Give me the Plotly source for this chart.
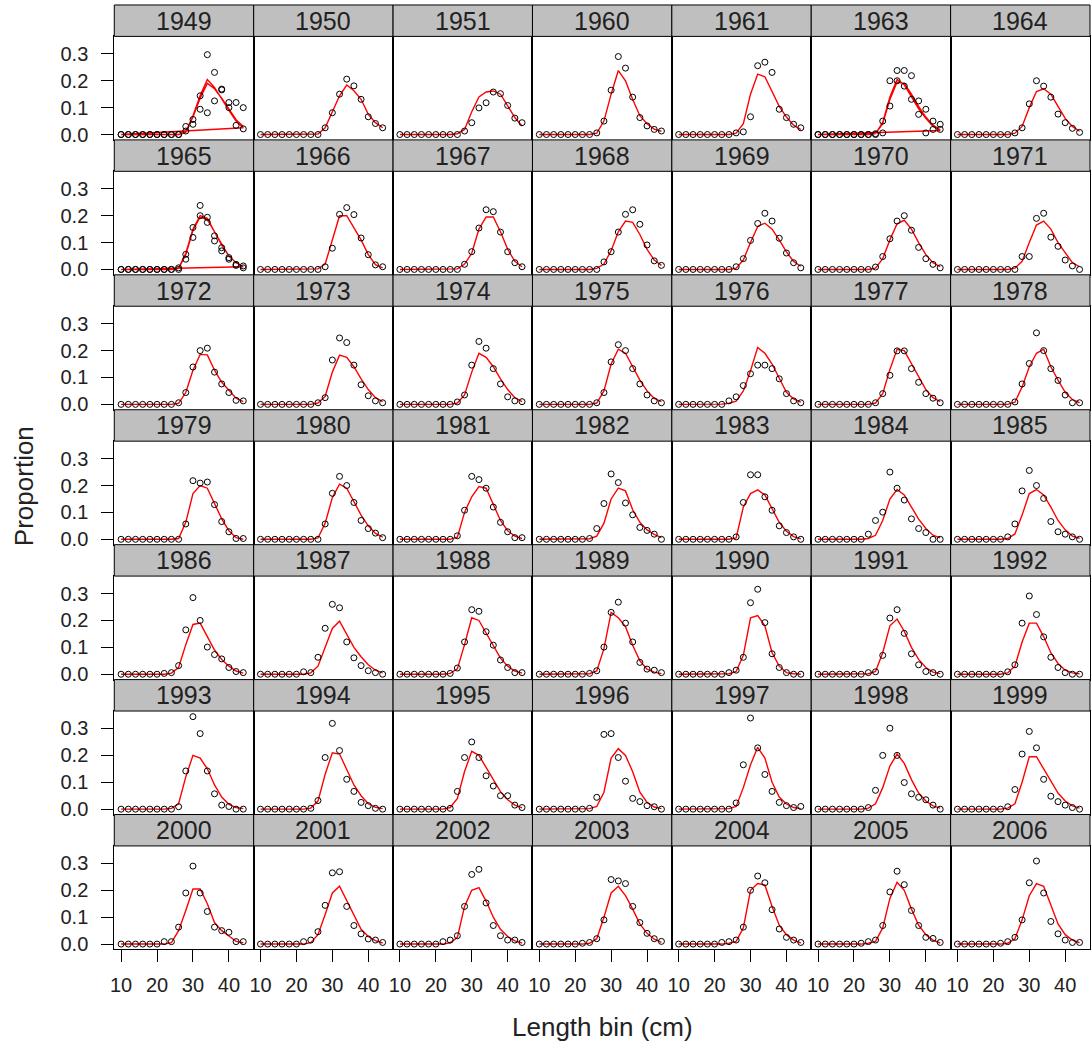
import plotly.graph_objects as go

# ---------------- data ----------------
bins = [10, 12, 14, 16, 18, 20, 22, 24, 26, 28, 30, 32, 34, 36, 38, 40, 42, 44]
x_ticks = [10, 20, 30, 40]
y_ticks = [0.0, 0.1, 0.2, 0.3]
y_tick_text = ["0.0", "0.1", "0.2", "0.3"]

years = [1949, 1950, 1951, 1960, 1961, 1963, 1964,
         1965, 1966, 1967, 1968, 1969, 1970, 1971,
         1972, 1973, 1974, 1975, 1976, 1977, 1978,
         1979, 1980, 1981, 1982, 1983, 1984, 1985,
         1986, 1987, 1988, 1989, 1990, 1991, 1992,
         1993, 1994, 1995, 1996, 1997, 1998, 1999,
         2000, 2001, 2002, 2003, 2004, 2005, 2006]

obs_1949a = [0, 0, 0, 0, 0, 0, 0, 0, 0, .013, .056, .144, .297, .231, .169, .119, .119, .100]
obs_1949b = [0, 0, 0, 0, 0, 0, 0, 0, 0, .030, .038, .094, .081, .125, .166, .100, .034, .021]
exp_1949a = [0, 0, 0, 0, 0, 0, 0, 0, 0, .010, .070, .145, .205, .175, .130, .090, .050, .025]
exp_1949b = [0, 0, 0, 0, 0, 0, 0, 0, 0, .008, .065, .135, .190, .170, .135, .095, .055, .030]

obs_1950 = [0, 0, 0, 0, 0, 0, 0, 0, 0, .025, .081, .150, .206, .181, .131, .066, .041, .025]
exp_1950 = [0, 0, 0, 0, 0, 0, 0, 0, .002, .025, .088, .144, .184, .163, .131, .075, .044, .025]
obs_1951 = [0, 0, 0, 0, 0, 0, 0, 0, 0, .013, .044, .099, .118, .158, .152, .108, .061, .044]
exp_1951 = [0, 0, 0, 0, 0, 0, 0, 0, .003, .019, .085, .140, .158, .162, .150, .108, .063, .032]
obs_1960 = [0, 0, 0, 0, 0, 0, 0, 0, .006, .050, .165, .290, .247, .139, .063, .032, .019, .013]
exp_1960 = [0, 0, 0, 0, 0, 0, 0, 0, .005, .050, .150, .238, .200, .130, .070, .040, .020, .012]
obs_1961 = [0, 0, 0, 0, 0, 0, 0, 0, .006, .010, .066, .256, .269, .231, .094, .063, .038, .025]
exp_1961 = [0, 0, 0, 0, 0, 0, 0, 0, .005, .040, .150, .225, .215, .160, .105, .065, .035, .018]

obs_1963a = [0, 0, 0, 0, 0, 0, 0, 0, 0, .050, .200, .238, .238, .219, .125, .094, .050, .038]
obs_1963b = [0, 0, 0, 0, 0, 0, 0, 0, .003, .006, .106, .200, .180, .131, .075, .006, .019, .019]
exp_1963a = [0, 0, 0, 0, 0, 0, 0, 0, .003, .045, .140, .205, .185, .140, .095, .060, .030, .015]
exp_1963b = [0, 0, 0, 0, 0, 0, 0, 0, .003, .040, .130, .195, .190, .150, .105, .065, .035, .017]

obs_1964 = [0, 0, 0, 0, 0, 0, 0, 0, .006, .025, .114, .200, .180, .139, .076, .044, .023, .008]
exp_1964 = [0, 0, 0, 0, 0, 0, 0, 0, .005, .030, .100, .160, .170, .150, .105, .060, .030, .012]

obs_1965a = [0, 0, 0, 0, 0, 0, 0, 0, .006, .056, .156, .238, .194, .125, .081, .044, .019, .013]
obs_1965b = [0, 0, 0, 0, 0, 0, 0, 0, 0, .038, .119, .200, .175, .106, .069, .038, .015, .006]
exp_1965a = [0, 0, 0, 0, 0, 0, 0, 0, .005, .060, .150, .200, .190, .140, .090, .050, .025, .010]
exp_1965b = [0, 0, 0, 0, 0, 0, 0, 0, .004, .055, .145, .195, .185, .140, .090, .050, .025, .010]

obs_1966 = [0, 0, 0, 0, 0, 0, 0, 0, 0, .010, .079, .205, .230, .204, .117, .055, .017, .010]
exp_1966 = [0, 0, 0, 0, 0, 0, 0, 0, .002, .020, .110, .200, .200, .155, .110, .055, .018, .006]
obs_1967 = [0, 0, 0, 0, 0, 0, 0, 0, 0, .019, .066, .154, .222, .215, .139, .066, .025, .010]
exp_1967 = [0, 0, 0, 0, 0, 0, 0, 0, .002, .020, .060, .150, .195, .195, .140, .075, .030, .010]
obs_1968 = [0, 0, 0, 0, 0, 0, 0, 0, 0, .028, .066, .139, .205, .222, .168, .091, .032, .015]
exp_1968 = [0, 0, 0, 0, 0, 0, 0, 0, .004, .020, .070, .140, .180, .175, .130, .075, .035, .015]
obs_1969 = [0, 0, 0, 0, 0, 0, 0, 0, .010, .040, .108, .171, .209, .180, .116, .061, .025, .006]
exp_1969 = [0, 0, 0, 0, 0, 0, 0, 0, .005, .035, .100, .160, .172, .150, .110, .065, .030, .012]
obs_1970 = [0, 0, 0, 0, 0, 0, 0, 0, .009, .048, .114, .180, .200, .146, .082, .040, .019, .006]
exp_1970 = [0, 0, 0, 0, 0, 0, 0, 0, .005, .040, .110, .170, .183, .150, .100, .055, .025, .010]
obs_1971 = [0, 0, 0, 0, 0, 0, 0, 0, 0, .048, .048, .190, .209, .120, .086, .035, .013, 0]
exp_1971 = [0, 0, 0, 0, 0, 0, 0, 0, .005, .030, .100, .165, .180, .150, .100, .060, .025, .010]

obs_1972 = [0, 0, 0, 0, 0, 0, 0, 0, .006, .044, .139, .200, .209, .120, .076, .044, .015, .013]
exp_1972 = [0, 0, 0, 0, 0, 0, 0, 0, .004, .044, .127, .186, .184, .127, .082, .051, .023, .010]
obs_1973 = [0, 0, 0, 0, 0, 0, 0, 0, .006, .025, .165, .247, .230, .146, .073, .032, .013, .006]
exp_1973 = [0, 0, 0, 0, 0, 0, 0, 0, .005, .030, .120, .183, .175, .140, .095, .055, .025, .010]
obs_1974 = [0, 0, 0, 0, 0, 0, 0, 0, .009, .035, .146, .234, .209, .133, .076, .028, .013, .010]
exp_1974 = [0, 0, 0, 0, 0, 0, 0, 0, .005, .035, .120, .190, .175, .140, .095, .055, .025, .010]
obs_1975 = [0, 0, 0, 0, 0, 0, 0, 0, .006, .044, .158, .222, .200, .133, .076, .035, .013, .006]
exp_1975 = [0, 0, 0, 0, 0, 0, 0, 0, .005, .050, .150, .205, .190, .140, .090, .050, .022, .010]
obs_1976 = [0, 0, 0, 0, 0, 0, 0, .013, .028, .070, .114, .146, .146, .133, .095, .040, .013, .006]
exp_1976 = [0, 0, 0, 0, 0, 0, .001, .004, .012, .050, .125, .212, .190, .150, .095, .045, .020, .008]
obs_1977 = [0, 0, 0, 0, 0, 0, 0, 0, .006, .040, .108, .199, .199, .133, .082, .040, .023, .006]
exp_1977 = [0, 0, 0, 0, 0, 0, 0, 0, .005, .040, .130, .205, .200, .150, .100, .055, .025, .010]
obs_1978 = [0, 0, 0, 0, 0, 0, 0, 0, .009, .076, .152, .266, .200, .133, .089, .035, .006, .006]
exp_1978 = [0, 0, 0, 0, 0, 0, 0, 0, .008, .065, .140, .190, .205, .140, .090, .045, .018, .006]

obs_1979 = [0, 0, 0, 0, 0, 0, 0, 0, 0, .057, .218, .209, .213, .129, .066, .028, .003, .003]
exp_1979 = [0, 0, 0, 0, 0, 0, 0, 0, .003, .063, .170, .200, .190, .133, .076, .032, .006, 0]
obs_1980 = [0, 0, 0, 0, 0, 0, 0, 0, 0, .057, .171, .234, .200, .137, .070, .040, .023, .006]
exp_1980 = [0, 0, 0, 0, 0, 0, 0, 0, .005, .060, .155, .205, .190, .140, .090, .050, .022, .008]
obs_1981 = [0, 0, 0, 0, 0, 0, 0, 0, .013, .108, .234, .222, .190, .120, .063, .028, .006, .006]
exp_1981 = [0, 0, 0, 0, 0, 0, 0, 0, .008, .100, .158, .196, .190, .127, .070, .032, .012, .003]
obs_1982 = [0, 0, 0, 0, 0, 0, 0, .003, .040, .133, .243, .211, .135, .091, .044, .033, .019, 0]
exp_1982 = [0, 0, 0, 0, 0, 0, 0, .002, .012, .060, .150, .190, .180, .110, .063, .035, .018, .006]
obs_1983 = [0, 0, 0, 0, 0, 0, 0, 0, .009, .137, .240, .240, .158, .108, .050, .025, .009, 0]
exp_1983 = [0, 0, 0, 0, 0, 0, 0, 0, .005, .120, .170, .184, .165, .115, .063, .030, .010, .002]
obs_1984 = [0, 0, 0, 0, 0, 0, 0, .019, .070, .101, .250, .190, .146, .076, .040, .025, 0, 0]
exp_1984 = [0, 0, 0, 0, 0, 0, 0, .003, .015, .070, .150, .185, .165, .120, .075, .040, .015, .005]
obs_1985 = [0, 0, 0, 0, 0, 0, 0, .009, .057, .180, .256, .200, .152, .066, .028, .019, .009, 0]
exp_1985 = [0, 0, 0, 0, 0, 0, 0, .003, .020, .090, .170, .185, .165, .120, .070, .035, .012, .004]

obs_1986 = [0, 0, 0, 0, 0, 0, .003, .006, .032, .165, .285, .200, .101, .073, .057, .025, .010, .006]
exp_1986 = [0, 0, 0, 0, 0, 0, 0, .004, .025, .110, .185, .190, .140, .090, .055, .030, .012, .004]
obs_1987 = [0, 0, 0, 0, 0, 0, .009, .006, .063, .171, .260, .247, .120, .061, .032, .013, .006, 0]
exp_1987 = [0, 0, 0, 0, 0, 0, 0, .005, .030, .100, .170, .197, .150, .100, .065, .035, .015, .005]
obs_1988 = [0, 0, 0, 0, 0, 0, 0, .003, .023, .120, .240, .234, .158, .108, .053, .025, .006, .006]
exp_1988 = [0, 0, 0, 0, 0, 0, 0, .003, .020, .110, .210, .200, .155, .105, .060, .030, .012, .004]
obs_1989 = [0, 0, 0, 0, 0, 0, 0, .003, .013, .101, .230, .268, .190, .120, .044, .019, .015, .006]
exp_1989 = [0, 0, 0, 0, 0, 0, 0, .002, .012, .095, .230, .210, .177, .108, .050, .019, .008, .002]
obs_1990 = [0, 0, 0, 0, 0, 0, 0, .006, .015, .063, .266, .316, .192, .076, .025, .006, 0, 0]
exp_1990 = [0, 0, 0, 0, 0, 0, 0, .002, .010, .070, .210, .218, .180, .080, .030, .006, .002, 0]
obs_1991 = [0, 0, 0, 0, 0, 0, 0, .006, .009, .070, .209, .240, .152, .076, .035, .010, .006, 0]
exp_1991 = [0, 0, 0, 0, 0, 0, 0, .002, .010, .080, .180, .205, .160, .100, .055, .025, .008, .002]
obs_1992 = [0, 0, 0, 0, 0, 0, 0, .009, .035, .190, .291, .222, .139, .063, .025, .006, 0, 0]
exp_1992 = [0, 0, 0, 0, 0, 0, 0, .005, .030, .120, .190, .190, .140, .080, .040, .015, .005, .002]

obs_1993 = [0, 0, 0, 0, 0, 0, 0, 0, .009, .142, .344, .281, .142, .057, .015, .010, 0, 0]
exp_1993 = [0, 0, 0, 0, 0, 0, 0, .003, .020, .120, .200, .190, .150, .090, .045, .018, .006, .002]
obs_1994 = [0, 0, 0, 0, 0, 0, 0, .003, .032, .192, .319, .218, .111, .066, .025, .013, .003, 0]
exp_1994 = [0, 0, 0, 0, 0, 0, 0, .004, .030, .130, .210, .205, .150, .090, .050, .020, .007, .002]
obs_1995 = [0, 0, 0, 0, 0, 0, 0, .003, .066, .192, .250, .192, .124, .086, .050, .050, .015, .006]
exp_1995 = [0, 0, 0, 0, 0, 0, 0, .006, .040, .140, .215, .200, .155, .105, .065, .035, .015, .005]
obs_1996 = [0, 0, 0, 0, 0, 0, 0, .003, .044, .278, .281, .192, .104, .040, .028, .013, .009, 0]
exp_1996 = [0, 0, 0, 0, 0, 0, 0, .002, .010, .063, .190, .225, .200, .139, .063, .025, .008, .002]
obs_1997 = [0, 0, 0, 0, 0, 0, 0, 0, .023, .165, .339, .228, .129, .066, .025, .013, .006, .010]
exp_1997 = [0, 0, 0, 0, 0, 0, 0, .002, .010, .080, .165, .230, .190, .100, .045, .019, .006, .002]
obs_1998 = [0, 0, 0, 0, 0, 0, 0, .006, .070, .200, .301, .200, .099, .057, .044, .035, .015, 0]
exp_1998 = [0, 0, 0, 0, 0, 0, 0, .004, .020, .080, .160, .205, .170, .110, .060, .030, .012, .004]
obs_1999 = [0, 0, 0, 0, 0, 0, 0, .009, .073, .205, .289, .228, .111, .048, .028, .015, .006, 0]
exp_1999 = [0, 0, 0, 0, 0, 0, 0, .004, .020, .100, .195, .195, .150, .100, .060, .030, .012, .004]

obs_2000 = [0, 0, 0, 0, 0, 0, .009, .009, .063, .190, .290, .190, .121, .063, .050, .044, .009, .009]
exp_2000 = [0, 0, 0, 0, 0, 0, 0, .005, .050, .125, .205, .205, .150, .080, .050, .030, .010, .005]
obs_2001 = [0, 0, 0, 0, 0, 0, .009, .015, .046, .144, .265, .269, .140, .069, .038, .019, .015, .006]
exp_2001 = [0, 0, 0, 0, 0, 0, 0, .005, .035, .110, .190, .215, .160, .105, .055, .028, .013, .004]
obs_2002 = [0, 0, 0, 0, 0, 0, .009, .015, .031, .140, .259, .278, .153, .069, .031, .015, .015, .006]
exp_2002 = [0, 0, 0, 0, 0, 0, 0, .005, .025, .140, .200, .210, .160, .100, .055, .028, .012, .004]
obs_2003 = [0, 0, 0, 0, 0, 0, .003, .006, .020, .090, .240, .235, .225, .140, .080, .040, .020, .010]
exp_2003 = [0, 0, 0, 0, 0, 0, 0, .003, .020, .100, .190, .215, .180, .130, .075, .040, .018, .006]
obs_2004 = [0, 0, 0, 0, 0, 0, .006, .009, .015, .063, .200, .253, .228, .128, .056, .025, .015, .006]
exp_2004 = [0, 0, 0, 0, 0, 0, 0, .003, .010, .060, .200, .225, .220, .140, .070, .035, .015, .004]
obs_2005 = [0, 0, 0, 0, 0, 0, .003, .009, .015, .069, .194, .271, .221, .125, .069, .025, .021, .006]
exp_2005 = [0, 0, 0, 0, 0, 0, 0, .003, .010, .060, .170, .230, .200, .130, .070, .035, .015, .004]
obs_2006 = [0, 0, 0, 0, 0, 0, .003, .009, .025, .090, .228, .309, .190, .084, .038, .015, .006, .006]
exp_2006 = [0, 0, 0, 0, 0, 0, 0, .003, .020, .090, .180, .225, .215, .145, .075, .035, .015, .005]

# per-panel series (years with two fleets carry two observed / two expected series)
observed = {
    1949: [obs_1949a, obs_1949b], 1950: [obs_1950], 1951: [obs_1951], 1960: [obs_1960],
    1961: [obs_1961], 1963: [obs_1963a, obs_1963b], 1964: [obs_1964],
    1965: [obs_1965a, obs_1965b], 1966: [obs_1966], 1967: [obs_1967], 1968: [obs_1968],
    1969: [obs_1969], 1970: [obs_1970], 1971: [obs_1971],
    1972: [obs_1972], 1973: [obs_1973], 1974: [obs_1974], 1975: [obs_1975],
    1976: [obs_1976], 1977: [obs_1977], 1978: [obs_1978],
    1979: [obs_1979], 1980: [obs_1980], 1981: [obs_1981], 1982: [obs_1982],
    1983: [obs_1983], 1984: [obs_1984], 1985: [obs_1985],
    1986: [obs_1986], 1987: [obs_1987], 1988: [obs_1988], 1989: [obs_1989],
    1990: [obs_1990], 1991: [obs_1991], 1992: [obs_1992],
    1993: [obs_1993], 1994: [obs_1994], 1995: [obs_1995], 1996: [obs_1996],
    1997: [obs_1997], 1998: [obs_1998], 1999: [obs_1999],
    2000: [obs_2000], 2001: [obs_2001], 2002: [obs_2002], 2003: [obs_2003],
    2004: [obs_2004], 2005: [obs_2005], 2006: [obs_2006],
}
expected = {
    1949: [exp_1949a, exp_1949b], 1950: [exp_1950], 1951: [exp_1951], 1960: [exp_1960],
    1961: [exp_1961], 1963: [exp_1963a, exp_1963b], 1964: [exp_1964],
    1965: [exp_1965a, exp_1965b], 1966: [exp_1966], 1967: [exp_1967], 1968: [exp_1968],
    1969: [exp_1969], 1970: [exp_1970], 1971: [exp_1971],
    1972: [exp_1972], 1973: [exp_1973], 1974: [exp_1974], 1975: [exp_1975],
    1976: [exp_1976], 1977: [exp_1977], 1978: [exp_1978],
    1979: [exp_1979], 1980: [exp_1980], 1981: [exp_1981], 1982: [exp_1982],
    1983: [exp_1983], 1984: [exp_1984], 1985: [exp_1985],
    1986: [exp_1986], 1987: [exp_1987], 1988: [exp_1988], 1989: [exp_1989],
    1990: [exp_1990], 1991: [exp_1991], 1992: [exp_1992],
    1993: [exp_1993], 1994: [exp_1994], 1995: [exp_1995], 1996: [exp_1996],
    1997: [exp_1997], 1998: [exp_1998], 1999: [exp_1999],
    2000: [exp_2000], 2001: [exp_2001], 2002: [exp_2002], 2003: [exp_2003],
    2004: [exp_2004], 2005: [exp_2005], 2006: [exp_2006],
}

for yr in years:
    for s in observed[yr] + expected[yr]:
        assert len(s) == len(bins), (yr, len(s))

# ---------------- layout geometry (pixels) ----------------
W, H = 1091, 1051
LEFT, RIGHT = 110.7, 1090.0
NCOL = 7
COLW = (RIGHT - LEFT) / NCOL
TOP0 = 5.0
STRIP_H = 31.6
PLOT_H = 104.1
PERIOD = STRIP_H + PLOT_H
Y_RANGE = [-0.02, 0.365]

FONT = "Liberation Sans, Arial, sans-serif"

fig = go.Figure()
layout_axes = {}
shapes = []
annotations = []

for i, yr in enumerate(years):
    r, c = divmod(i, NCOL)
    k = i + 1
    sfx = "" if k == 1 else str(k)
    x0 = LEFT + c * COLW
    x1 = x0 + COLW
    st = TOP0 + r * PERIOD
    sb = st + STRIP_H
    pb = sb + PLOT_H
    bottom_row = (r == 6)
    left_col = (c == 0)
    ydom = [1 - pb / H, 1 - sb / H]

    layout_axes["xaxis" + sfx] = dict(
        domain=[x0 / W, x1 / W], range=[8.1, 46.9], anchor="y" + sfx,
        showline=True, mirror=True, linecolor="black", linewidth=1,
        showgrid=False, zeroline=False,
        tickvals=x_ticks, ticks="outside" if bottom_row else "",
        ticklen=12, tickwidth=1, tickcolor="black",
        showticklabels=bottom_row, ticklabelstandoff=6,
        tickfont=dict(family=FONT, size=20, color="#222222"),
    )
    layout_axes["yaxis" + sfx] = dict(
        domain=ydom, range=Y_RANGE, anchor="x" + sfx,
        showline=True, mirror=True, linecolor="black", linewidth=1,
        showgrid=False, zeroline=False,
        tickvals=y_ticks, ticks="outside" if left_col else "",
        ticklen=12, tickwidth=1, tickcolor="black",
        showticklabels=False,
    )
    if left_col:
        # companion axis carrying the tick labels, set a little further from the panel
        lab = str(100 + r)
        layout_axes["yaxis" + lab] = dict(
            domain=ydom, range=Y_RANGE, anchor="x" + sfx, overlaying="y" + sfx,
            side="left", showline=False, showgrid=False, zeroline=False,
            tickvals=y_ticks, ticktext=y_tick_text,
            ticks="outside", ticklen=21, tickcolor="rgba(0,0,0,0)",
            showticklabels=True,
            tickfont=dict(family=FONT, size=20, color="#222222"),
        )
        fig.add_trace(go.Scatter(x=[None], y=[None], mode="markers",
                                 xaxis="x" + sfx, yaxis="y" + lab,
                                 hoverinfo="skip", showlegend=False))

    # strip
    shapes.append(dict(type="rect", xref="paper", yref="paper",
                       x0=x0 / W, x1=x1 / W, y0=1 - sb / H, y1=1 - st / H,
                       fillcolor="#BFBFBF", line=dict(color="black", width=1), layer="above"))
    annotations.append(dict(text=str(yr), xref="paper", yref="paper",
                            x=(x0 + x1) / 2 / W, y=1 - (st + sb) / 2 / H,
                            xanchor="center", yanchor="middle", showarrow=False,
                            font=dict(family=FONT, size=25, color="#222222")))

    # expected (one polyline through all series of the panel)
    ex_x, ex_y = [], []
    for s in expected[yr]:
        ex_x += bins
        ex_y += s
    fig.add_trace(go.Scatter(x=ex_x, y=ex_y, mode="lines",
                             line=dict(color="#FF0000", width=1.4),
                             xaxis="x" + sfx, yaxis="y" + sfx, hoverinfo="skip"))
    # observed
    ob_x, ob_y = [], []
    for s in observed[yr]:
        ob_x += bins
        ob_y += s
    fig.add_trace(go.Scatter(x=ob_x, y=ob_y, mode="markers",
                             marker=dict(symbol="circle-open", size=6, color="black",
                                         line=dict(width=1, color="black")),
                             xaxis="x" + sfx, yaxis="y" + sfx, hoverinfo="skip"))

# axis titles
annotations.append(dict(text="Length bin (cm)", xref="paper", yref="paper",
                        x=(LEFT + RIGHT) / 2 / W, y=1 - 1033 / H,
                        xanchor="center", yanchor="middle", showarrow=False,
                        font=dict(family=FONT, size=26, color="#222222")))
annotations.append(dict(text="Proportion", xref="paper", yref="paper",
                        x=20 / W, y=1 - 489 / H, textangle=-90,
                        xanchor="center", yanchor="middle", showarrow=False,
                        font=dict(family=FONT, size=26, color="#222222")))

fig.update_layout(
    width=W, height=H,
    margin=dict(l=0, r=0, t=0, b=0),
    paper_bgcolor="white", plot_bgcolor="white",
    showlegend=False,
    shapes=shapes, annotations=annotations,
    **layout_axes,
)

fig.write_html("out.html",
               config={"displayModeBar": False},
               post_script="document.body.style.margin='0';document.body.style.padding='0';"
                           "document.body.style.overflow='hidden';")
